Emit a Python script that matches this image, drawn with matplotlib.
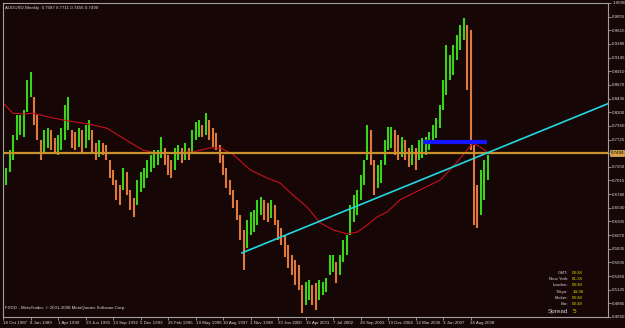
import numpy as np
import matplotlib.pyplot as plt

plt.rcParams['font.family'] = ['Liberation Sans', 'DejaVu Sans']

# AUDUSD weekly, one sample per 8 weeks (high / low)
symbol = 'AUDUSD,Weekly'
header_prices = ['0.7587', '0.7711', '0.7456', '0.7490']
weeks_per_sample = 8

high = [0.706, 0.723, 0.754, 0.780, 0.815, 0.815, 0.824, 0.876, 0.889, 0.846,
        0.815, 0.772, 0.789, 0.792, 0.789, 0.775, 0.780, 0.792, 0.832, 0.846,
        0.789, 0.786, 0.792, 0.789, 0.798, 0.806, 0.789, 0.766, 0.772, 0.766,
        0.763, 0.737, 0.720, 0.702, 0.694, 0.723, 0.716, 0.685, 0.671, 0.702,
        0.716, 0.723, 0.737, 0.746, 0.754, 0.754, 0.777, 0.758, 0.746, 0.737,
        0.758, 0.763, 0.758, 0.766, 0.758, 0.789, 0.803, 0.806, 0.798, 0.818,
        0.806, 0.792, 0.784, 0.763, 0.746, 0.723, 0.702, 0.685, 0.668, 0.642,
        0.616, 0.633, 0.647, 0.650, 0.668, 0.673, 0.668, 0.663, 0.668, 0.659,
        0.633, 0.619, 0.607, 0.590, 0.572, 0.564, 0.555, 0.520, 0.526, 0.529,
        0.520, 0.524, 0.529, 0.526, 0.533, 0.572, 0.572, 0.560, 0.572, 0.598,
        0.607, 0.659, 0.676, 0.685, 0.711, 0.737, 0.798, 0.789, 0.737, 0.728,
        0.737, 0.772, 0.794, 0.794, 0.789, 0.780, 0.777, 0.772, 0.758, 0.763,
        0.758, 0.772, 0.775, 0.777, 0.786, 0.798, 0.810, 0.832, 0.876, 0.936,
        0.919, 0.936, 0.954, 0.971, 0.983, 0.971, 0.962, 0.763, 0.694, 0.720,
        0.737, 0.746]
low = [0.668, 0.694, 0.716, 0.737, 0.772, 0.780, 0.777, 0.820, 0.846, 0.798,
       0.772, 0.737, 0.751, 0.758, 0.754, 0.751, 0.746, 0.754, 0.772, 0.789,
       0.758, 0.754, 0.760, 0.751, 0.758, 0.772, 0.751, 0.737, 0.742, 0.746,
       0.737, 0.706, 0.694, 0.668, 0.659, 0.685, 0.676, 0.650, 0.638, 0.659,
       0.682, 0.688, 0.706, 0.716, 0.723, 0.728, 0.740, 0.728, 0.711, 0.706,
       0.720, 0.737, 0.732, 0.737, 0.737, 0.751, 0.772, 0.777, 0.777, 0.780,
       0.772, 0.760, 0.754, 0.732, 0.711, 0.688, 0.676, 0.654, 0.633, 0.598,
       0.546, 0.585, 0.607, 0.612, 0.624, 0.642, 0.633, 0.630, 0.636, 0.624,
       0.598, 0.590, 0.569, 0.550, 0.538, 0.520, 0.512, 0.472, 0.486, 0.494,
       0.486, 0.477, 0.494, 0.503, 0.508, 0.538, 0.543, 0.524, 0.538, 0.560,
       0.572, 0.607, 0.630, 0.642, 0.668, 0.694, 0.737, 0.728, 0.676, 0.688,
       0.697, 0.728, 0.754, 0.758, 0.746, 0.737, 0.742, 0.737, 0.725, 0.728,
       0.720, 0.737, 0.740, 0.746, 0.754, 0.772, 0.775, 0.792, 0.824, 0.850,
       0.876, 0.884, 0.910, 0.928, 0.945, 0.858, 0.754, 0.624, 0.619, 0.642,
       0.668, 0.702]

# long moving average (red)
ma_weeks = [0, 23, 51, 70, 109, 149, 202, 242, 279, 326, 358, 396, 442, 482,
            505, 535, 575, 614, 645, 675, 707, 738, 768, 800, 824, 847, 870,
            894, 924, 970, 1017, 1047, 1080, 1094, 1110, 1126]
ma_values = [0.836, 0.818, 0.817, 0.818, 0.811, 0.805, 0.799, 0.792, 0.775,
             0.754, 0.749, 0.749, 0.751, 0.758, 0.758, 0.747, 0.720, 0.706,
             0.697, 0.676, 0.656, 0.628, 0.616, 0.609, 0.612, 0.624, 0.638,
             0.647, 0.668, 0.685, 0.702, 0.725, 0.754, 0.766, 0.760, 0.751]

# drawn objects
trend_weeks = [556, 1126]
trend_prices = [0.576, 0.749]
level_weeks = [977, 1126]
level_price = 0.769
bid_price = 0.7490

date_labels = ['18 Oct 1987', '8 Jan 1989', '1 Apr 1990', '23 Jun 1991', '13 Sep 1992',
               '5 Dec 1993', '26 Feb 1995', '19 May 1996', '10 Aug 1997', '1 Nov 1998',
               '23 Jan 2000', '15 Apr 2001', '7 Jul 2002', '28 Sep 2003', '19 Dec 2004',
               '12 Mar 2006', '3 Jun 2007', '24 Aug 2008']
price_labels = ['1.0090', '0.9855', '0.9615', '0.9380', '0.9145', '0.8910', '0.8670',
                '0.8435', '0.8200', '0.7960', '0.7725', '0.7490', '0.7250', '0.7015',
                '0.6780', '0.6540', '0.6305', '0.6070', '0.5835', '0.5595', '0.5360',
                '0.5125', '0.4885', '0.4650']

info_names = ['GMT:', 'New York:', 'London:', 'Tokyo:', 'Broker:', 'Bar:']
info_times = ['08:38', '01:38', '08:38', '14:38', '08:38', '08:38']
spread = '5'

bg = '#170606'
grey = '#a0a0a0'
fs = 3.2

fig = plt.figure(figsize=(6.25, 3.28), dpi=100, facecolor=bg)
ax = fig.add_axes([3 / 625, 11 / 328, 605 / 625, 314 / 328])
ax.set_facecolor(bg)

hi = np.array(high)
lo = np.array(low)
weeks = np.arange(len(hi)) * weeks_per_sample
mid = (hi + lo) / 2
up = np.diff(mid, prepend=mid[0]) >= 0
ax.vlines(weeks[up], lo[up], hi[up], color='#3ad41a', lw=1.5)
ax.vlines(weeks[~up], lo[~up], hi[~up], color='#e07a3c', lw=1.5)

ax.plot(ma_weeks, ma_values, color='#c8101e', lw=0.8)
ax.axhline(bid_price, color='#c8912a', lw=1.6)
ax.plot(level_weeks, [level_price, level_price], color='#1414ff', lw=3,
        solid_capstyle='butt')

x_right = 1408
slope = (trend_prices[1] - trend_prices[0]) / (trend_weeks[1] - trend_weeks[0])
ax.plot([trend_weeks[0], x_right],
        [trend_prices[0], trend_prices[0] + slope * (x_right - trend_weeks[0])],
        color='#22d8e0', lw=1.2)

ax.set_xlim(0, x_right)
ax.set_ylim(0.4650, 1.0090)

ax.set_xticks(np.arange(len(date_labels)) * 64, date_labels)
for lbl in ax.get_xticklabels():
    lbl.set_ha('left')
ax.yaxis.tick_right()
# the bid label box stands where its own tick label would be
shown = ['' if p == f'{bid_price:.4f}' else p for p in price_labels]
ax.set_yticks([float(p) for p in price_labels], shown)
ax.tick_params(colors=grey, labelcolor='#d8d8d8', labelsize=fs, length=2,
               width=0.6, pad=1)
for s in ax.spines.values():
    s.set_color(grey)
    s.set_linewidth(0.8)

ax.text(1.004, bid_price, f'{bid_price:.4f}', transform=ax.get_yaxis_transform(),
        fontsize=fs, color='black', va='center', ha='left', clip_on=False,
        bbox=dict(boxstyle='square,pad=0.15', fc='#d8a040', ec='#f0d080', lw=0.4))

ax.text(0.004, 0.992, symbol + '  ' + ' '.join(header_prices), transform=ax.transAxes,
        fontsize=fs, color='#d8d8d8', va='top', ha='left')
ax.text(0.004, 0.03, 'FXDD - MetaTrader, © 2001-2008 MetaQuotes Software Corp.',
        transform=ax.transAxes, fontsize=fs, color='#d8d8d8', va='center', ha='left')

rows = [0.141, 0.121, 0.102, 0.080, 0.061, 0.041]
for name, t, yy in zip(info_names, info_times, rows):
    ax.text(0.934, yy, name, transform=ax.transAxes, fontsize=fs, color='#d0d0d0',
            ha='right', va='center')
    ax.text(0.941, yy, t, transform=ax.transAxes, fontsize=fs, color='#d8d800',
            ha='left', va='center')
ax.text(0.934, 0.017, 'Spread', transform=ax.transAxes, fontsize=4.6, color='#d0d0d0',
        ha='right', va='center')
ax.text(0.941, 0.017, spread, transform=ax.transAxes, fontsize=4.6, color='#d8d800',
        ha='left', va='center')

fig.savefig('out.png', dpi=100, facecolor=bg)
